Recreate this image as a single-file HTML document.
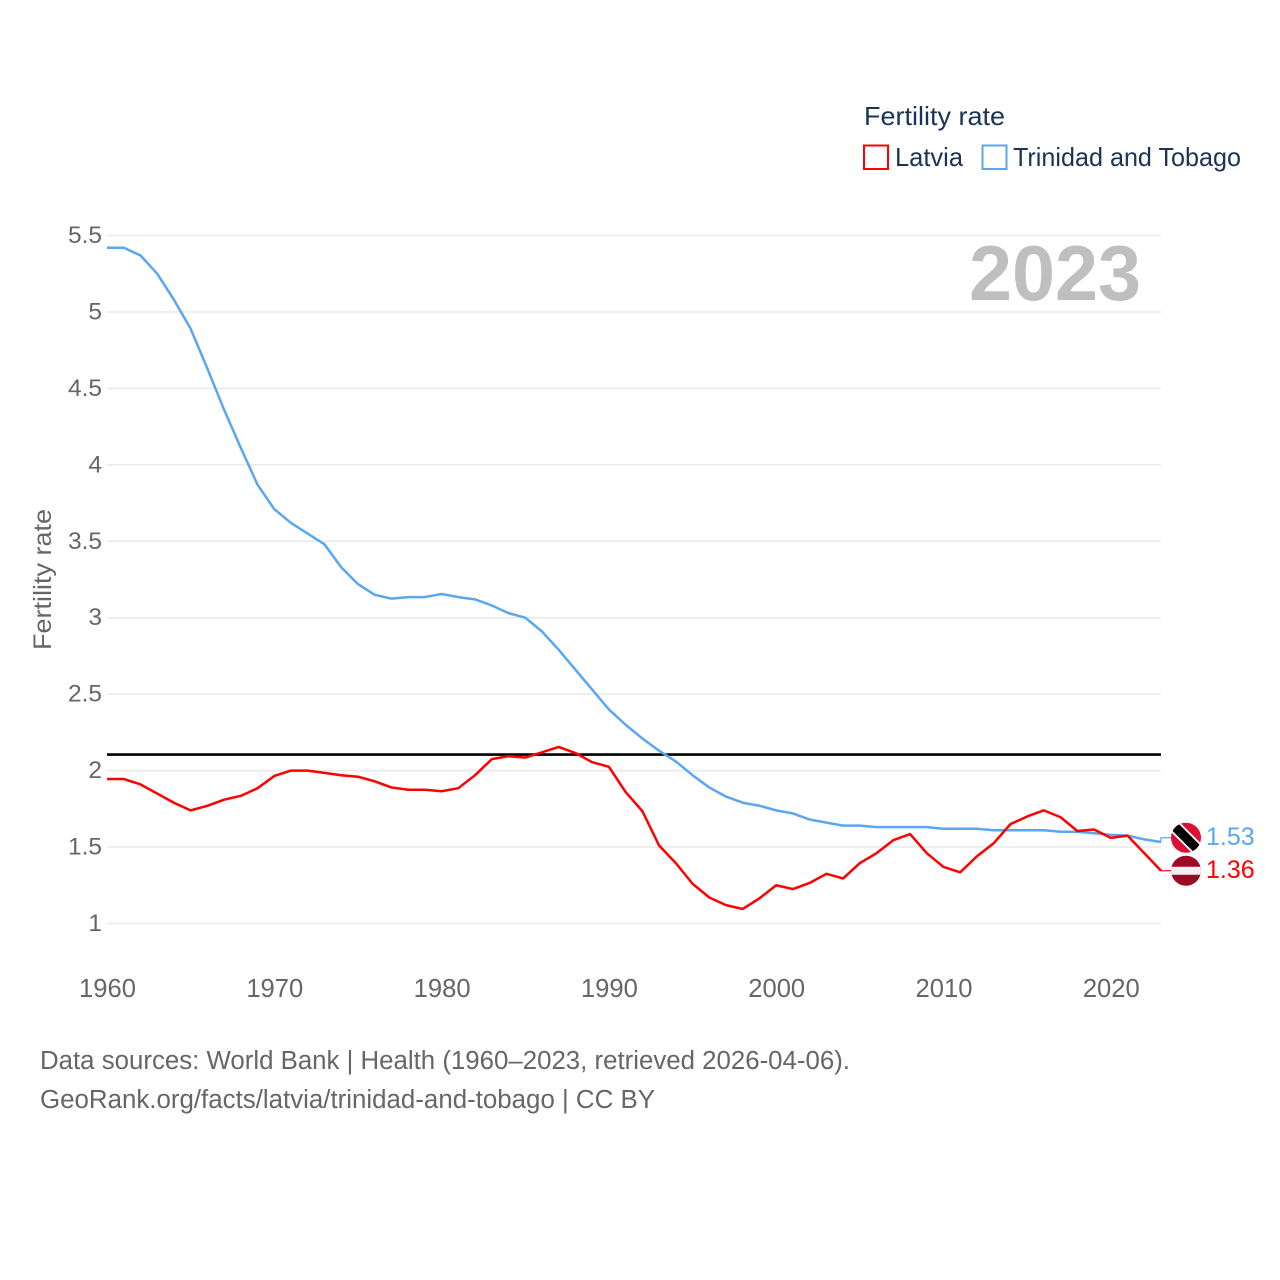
<!DOCTYPE html>
<html lang="en">
<head>
<meta charset="utf-8">
<title>Fertility rate: Latvia and Trinidad and Tobago</title>
<style>
html,body{margin:0;padding:0;background:#fff;}
svg{display:block;font-family:"Liberation Sans",sans-serif;}
</style>
</head>
<body>
<svg id="chart" xmlns="http://www.w3.org/2000/svg" width="1280" height="1280" viewBox="0 0 1280 1280">
  <defs>
    <clipPath id="clip-tt"><circle cx="0" cy="0" r="15"/></clipPath>
    <clipPath id="clip-lv"><circle cx="0" cy="0" r="15"/></clipPath>
  </defs>
  <rect x="0" y="0" width="1280" height="1280" fill="#fff"/>

  <g id="grid"></g>
  <g id="ytick-labels"></g>
  <g id="xtick-labels"></g>

  <text transform="translate(51,650) rotate(-90)" font-size="25" fill="#666" textLength="141" lengthAdjust="spacingAndGlyphs">Fertility rate</text>
  <text x="969" y="300" font-size="78" font-weight="700" fill="#bfbfbf" textLength="172" lengthAdjust="spacingAndGlyphs">2023</text>

  <g>
    <text x="864" y="125" font-size="26" fill="#1b3355" textLength="141" lengthAdjust="spacingAndGlyphs">Fertility rate</text>
    <rect x="864" y="145.500" width="24" height="23.500" fill="#fff" stroke="#ff0000" stroke-width="2"/>
    <text x="895" y="166" font-size="26" fill="#1b3355" textLength="68" lengthAdjust="spacingAndGlyphs">Latvia</text>
    <rect x="982.500" y="145.500" width="24" height="23.500" fill="#fff" stroke="#5ba6f0" stroke-width="2"/>
    <text x="1013" y="166" font-size="26" fill="#1b3355" textLength="228" lengthAdjust="spacingAndGlyphs">Trinidad and Tobago</text>
  </g>

  <g id="series"></g>

  <g id="flag-tt">
    <g clip-path="url(#clip-tt)">
      <rect x="-16" y="-16" width="32" height="32" fill="#da1035"/>
      <rect x="-24" y="-6.500" width="48" height="13" fill="#fff" transform="rotate(45)"/>
      <rect x="-24" y="-4.700" width="48" height="9.400" fill="#000" transform="rotate(45)"/>
    </g>
  </g>
  <g id="flag-lv">
    <g clip-path="url(#clip-lv)">
      <rect x="-16" y="-16" width="32" height="32" fill="#9e0a26"/>
      <rect x="-16" y="-4" width="32" height="8" fill="#f1f1f1"/>
    </g>
  </g>
  <g id="end-labels"></g>

  <g>
    <text x="40" y="1069" font-size="25.500" fill="#666" textLength="810" lengthAdjust="spacingAndGlyphs">Data sources: World Bank | Health (1960–2023, retrieved 2026-04-06).</text>
    <text x="40" y="1108" font-size="25.500" fill="#666" textLength="615" lengthAdjust="spacingAndGlyphs">GeoRank.org/facts/latvia/trinidad-and-tobago | CC BY</text>
  </g>
</svg>

<script>
const years = [1960,1961,1962,1963,1964,1965,1966,1967,1968,1969,1970,1971,1972,1973,1974,1975,1976,1977,1978,1979,1980,1981,1982,1983,1984,1985,1986,1987,1988,1989,1990,1991,1992,1993,1994,1995,1996,1997,1998,1999,2000,2001,2002,2003,2004,2005,2006,2007,2008,2009,2010,2011,2012,2013,2014,2015,2016,2017,2018,2019,2020,2021,2022,2023];
const latvia = [1.945,1.945,1.91,1.85,1.79,1.74,1.77,1.81,1.835,1.885,1.965,2.0,2.0,1.985,1.97,1.96,1.93,1.89,1.875,1.875,1.865,1.885,1.97,2.075,2.095,2.085,2.12,2.155,2.115,2.055,2.025,1.86,1.735,1.51,1.395,1.26,1.17,1.12,1.095,1.165,1.25,1.225,1.265,1.325,1.295,1.395,1.46,1.545,1.585,1.46,1.37,1.335,1.44,1.525,1.65,1.70,1.74,1.695,1.605,1.615,1.56,1.575,1.46,1.345];
const trinidad = [5.42,5.42,5.37,5.25,5.08,4.89,4.63,4.36,4.11,3.87,3.71,3.62,3.55,3.48,3.33,3.22,3.15,3.125,3.135,3.135,3.155,3.135,3.12,3.08,3.03,3.0,2.91,2.79,2.66,2.53,2.40,2.30,2.21,2.13,2.06,1.97,1.89,1.83,1.79,1.77,1.74,1.72,1.68,1.66,1.64,1.64,1.63,1.63,1.63,1.63,1.62,1.62,1.62,1.61,1.61,1.61,1.61,1.60,1.60,1.59,1.58,1.575,1.55,1.533];
const yTicks = [1,1.5,2,2.5,3,3.5,4,4.5,5,5.5];
const xTicks = [1960,1970,1980,1990,2000,2010,2020];
const replacementRate = [2.105];
const latviaPrinted = ['1.36'];
const trinidadPrinted = ['1.53'];

const NS = 'http://www.w3.org/2000/svg';
const plotLeft = 107, plotRight = 1161, yAtOne = 923.5, yAtTop = 235.5;
function xScale(year) {
  return plotLeft + (year - years[0]) / (years[years.length - 1] - years[0]) * (plotRight - plotLeft);
}
function yScale(value) {
  return yAtOne - (value - 1) / 4.5 * (yAtOne - yAtTop);
}
function make(tag, parent, attrs, text) {
  const el = document.createElementNS(NS, tag);
  Object.keys(attrs).forEach(function (k) { el.setAttribute(k, attrs[k]); });
  if (text !== undefined) el.textContent = text;
  parent.appendChild(el);
  return el;
}

const gridG = document.getElementById('grid');
const yG = document.getElementById('ytick-labels');
const xG = document.getElementById('xtick-labels');
const seriesG = document.getElementById('series');
const labelsG = document.getElementById('end-labels');

yTicks.forEach(function (t) {
  const line = make('line', gridG, {x1: plotLeft, x2: plotRight, y1: yScale(t), y2: yScale(t), stroke: '#e9e9e9', 'stroke-width': 1.5});
  
  
  const label = make('text', yG, {x: 102, y: yScale(t) + 7.5, 'text-anchor': 'end', 'font-size': 24.5, fill: '#666'}, String(t));
  
  
});

xTicks.forEach(function (t) {
  const label = make('text', xG, {x: xScale(t) + 0.5, y: 997, 'text-anchor': 'middle', 'font-size': 25.6, fill: '#666'}, String(t));
  
  
});

function linePoints(values) {
  return values.map(function (v, i) {
    return xScale(years[i]).toFixed(2) + ',' + yScale(v).toFixed(2);
  }).join(' ');
}

const refLine = make('line', seriesG, {x1: plotLeft, x2: plotRight, y1: yScale(replacementRate[0]), y2: yScale(replacementRate[0]), stroke: '#000', 'stroke-width': 2.6});



const ttLine = make('polyline', seriesG, {points: linePoints(trinidad), fill: 'none', stroke: '#5ba6f0', 'stroke-width': 2.5, 'stroke-linejoin': 'round'});



const lvLine = make('polyline', seriesG, {points: linePoints(latvia), fill: 'none', stroke: '#ff0000', 'stroke-width': 2.5, 'stroke-linejoin': 'round'});



/* end labels: the lower one stays put, the upper one is pushed clear */
const lvLast = latvia[latvia.length - 1];
const ttLast = trinidad[trinidad.length - 1];
const lvY = yScale(lvLast);
const ttY = Math.min(yScale(ttLast), lvY - 33);

document.getElementById('flag-tt').setAttribute('transform', 'translate(1186,' + ttY + ')');
document.getElementById('flag-lv').setAttribute('transform', 'translate(1186,' + lvY + ')');

const ttStub = make('polyline', seriesG, {points: plotRight + ',' + yScale(ttLast) + ' ' + plotRight + ',' + ttY + ' 1172,' + ttY, fill: 'none', stroke: '#5ba6f0', 'stroke-width': 1.2});



const lvStub = make('polyline', seriesG, {points: plotRight + ',' + lvY + ' 1172,' + lvY, fill: 'none', stroke: '#ff0000', 'stroke-width': 1.2});



const ttLabel = make('text', labelsG, {x: 1206, y: ttY + 7, 'font-size': 25, fill: '#5ba6f0'}, trinidadPrinted[0]);



const lvLabel = make('text', labelsG, {x: 1206, y: lvY + 7, 'font-size': 25, fill: '#ff0000'}, latviaPrinted[0]);


</script>
</body>
</html>
